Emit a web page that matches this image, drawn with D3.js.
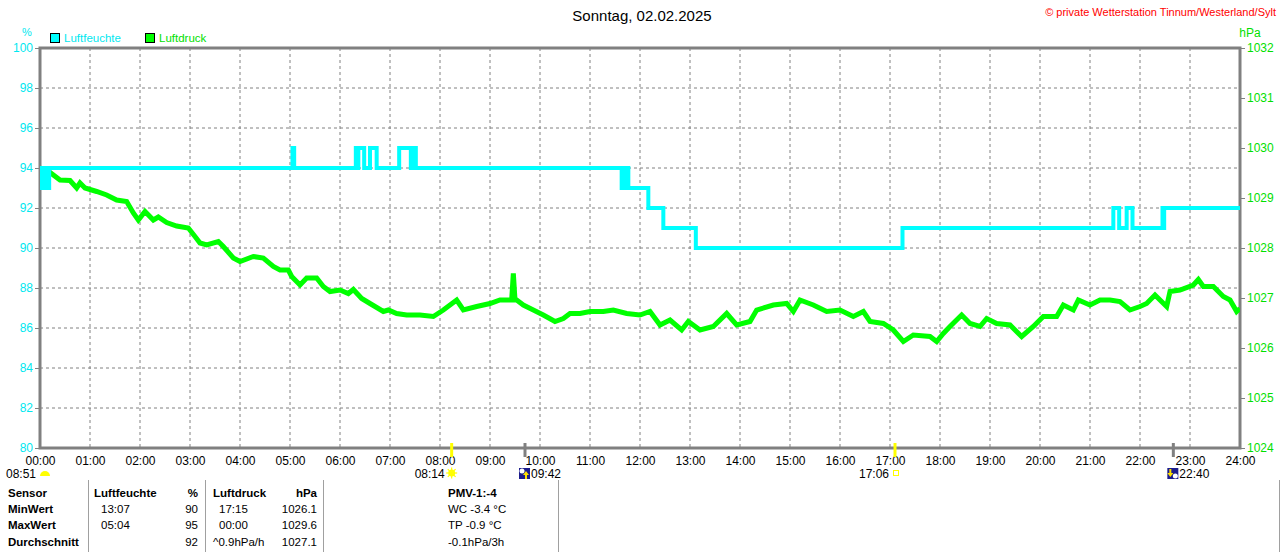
<!DOCTYPE html>
<html>
<head>
<meta charset="utf-8">
<script src="https://cdn.jsdelivr.net/npm/d3@7"></script>
<style>
  body { margin: 0; background: #fff; }
  svg { display: block; font-family: "Liberation Sans", Arial, sans-serif; }
  .grid line { stroke: #808080; stroke-width: 1; stroke-dasharray: 3,3; }
  .tbl { font-size: 11.5px; fill: #000; }
  .tbl.b { font-weight: bold; }
</style>
</head>
<body>
<div id="chart"></div>
<script>
// humidity (%), step values: minute of day, value
const humMin = [0, 2, 5, 8, 11, 303, 305, 379, 381, 382, 389, 396, 404, 431, 433, 445, 448, 451,
  698, 700, 702, 704, 706, 730, 748, 787, 1035, 1288, 1295, 1304, 1311, 1347, 1348, 1349, 1440];
const humVal = [94, 93, 94, 93, 94, 95, 94, 95, 94, 95, 94, 95, 94, 95, 95, 94, 95, 94,
  93, 94, 93, 94, 93, 92, 91, 90, 91, 92, 91, 92, 91, 92, 91, 92, 92];

// air pressure (hPa)
const presMin = [0, 12, 24, 36, 44, 48, 54, 68, 80, 92, 104, 112, 118, 126, 136, 142, 152, 164, 178, 186,
  192, 200, 214, 220, 232, 240, 256, 268, 280, 288, 298, 302, 312, 320, 332, 340, 348, 360, 370, 376,
  386, 396, 412, 418, 428, 440, 456, 472, 484, 500, 508, 524, 540, 552, 564, 566, 568, 570, 572, 580,
  592, 604, 618, 628, 636, 648, 660, 676, 688, 704, 720, 732, 744, 756, 770, 778, 792, 808, 824, 836,
  852, 860, 880, 896, 904, 912, 928, 944, 960, 976, 988, 996, 1012, 1024, 1036, 1048, 1068, 1076, 1084, 1092,
  1106, 1116, 1128, 1136, 1148, 1164, 1178, 1192, 1204, 1220, 1228, 1240, 1246, 1260, 1272, 1284, 1296, 1308, 1320, 1328,
  1338, 1344, 1352, 1356, 1368, 1384, 1390, 1396, 1408, 1420, 1428, 1436, 1440];
const presVal = [1029.60, 1029.51, 1029.36, 1029.35, 1029.20, 1029.30, 1029.20, 1029.13, 1029.06, 1028.96,
  1028.93, 1028.70, 1028.56, 1028.73, 1028.56, 1028.62, 1028.51, 1028.44, 1028.40, 1028.23,
  1028.10, 1028.06, 1028.13, 1028.03, 1027.80, 1027.73, 1027.83, 1027.80, 1027.63, 1027.56,
  1027.56, 1027.43, 1027.26, 1027.40, 1027.40, 1027.23, 1027.13, 1027.16, 1027.09, 1027.17,
  1026.99, 1026.89, 1026.73, 1026.76, 1026.69, 1026.66, 1026.66, 1026.63, 1026.76, 1026.96,
  1026.76, 1026.83, 1026.89, 1026.96, 1026.96, 1026.96, 1027.49, 1026.96, 1026.96, 1026.86,
  1026.76, 1026.66, 1026.53, 1026.59, 1026.69, 1026.69, 1026.73, 1026.73, 1026.76, 1026.69,
  1026.66, 1026.73, 1026.46, 1026.56, 1026.36, 1026.53, 1026.36, 1026.43, 1026.69, 1026.46,
  1026.53, 1026.76, 1026.86, 1026.89, 1026.73, 1026.96, 1026.86, 1026.73, 1026.76, 1026.63,
  1026.73, 1026.53, 1026.49, 1026.36, 1026.13, 1026.26, 1026.23, 1026.13, 1026.29, 1026.43,
  1026.66, 1026.49, 1026.43, 1026.59, 1026.49, 1026.46, 1026.23, 1026.43, 1026.63, 1026.63,
  1026.86, 1026.76, 1026.96, 1026.86, 1026.96, 1026.96, 1026.93, 1026.76, 1026.83, 1026.89,
  1027.06, 1026.96, 1026.83, 1027.13, 1027.16, 1027.26, 1027.37, 1027.23, 1027.23, 1027.03,
  1026.96, 1026.73, 1026.79];

const hourTicks = d3.range(0, 25);
const humTicks = d3.range(80, 101, 2);
const presTicks = d3.range(1024, 1033, 1);

// sun / moon events below the axis
const eventLabel = ["08:51", "08:14", "09:42", "17:06", "22:40"];
const eventMin = [0, 494, 582, 1026, 1360];
const eventType = ["halfsun", "sunrise", "moonrise", "sunset", "moonset"];

// summary table
const tblRows = ["Sensor", "MinWert", "MaxWert", "Durchschnitt"];
const humTime = ["", "13:07", "05:04", ""];
const humStat = ["%", "90", "95", "92"];
const presTime = ["Luftdruck", "17:15", "00:00", "^0.9hPa/h"];
const presStat = ["hPa", "1026.1", "1029.6", "1027.1"];
const pmvText = ["PMV-1:-4", "WC -3.4 °C", "TP -0.9 °C", "-0.1hPa/3h"];

const width = 1280, height = 552;
const margin = { top: 48, right: 40, bottom: 104, left: 40 };
const innerW = width - margin.left - margin.right;
const innerH = height - margin.top - margin.bottom;

const cyan = "#00ffff", green = "#00ff00";
const cyanText = "#00e8f0", greenText = "#00e000";

const x = d3.scaleLinear().domain([0, 1440]).range([margin.left, margin.left + innerW]);
const yH = d3.scaleLinear().domain([80, 100]).range([margin.top + innerH, margin.top]);
const yP = d3.scaleLinear().domain([1024, 1032]).range([margin.top + innerH, margin.top]);

const svg = d3.select("#chart").append("svg")
  .attr("width", width).attr("height", height);

// grid
const grid = svg.append("g").attr("class", "grid");
grid.selectAll(".v").data(hourTicks.slice(1, -1)).join("line")
  .attr("x1", d => x(d * 60)).attr("x2", d => x(d * 60))
  .attr("y1", margin.top).attr("y2", margin.top + innerH);
grid.selectAll(".h").data(humTicks.slice(1, -1)).join("line")
  .attr("x1", margin.left).attr("x2", margin.left + innerW)
  .attr("y1", d => yH(d)).attr("y2", d => yH(d));

// frame
svg.append("rect")
  .attr("x", margin.left).attr("y", margin.top)
  .attr("width", innerW).attr("height", innerH)
  .attr("fill", "none").attr("stroke", "#808080").attr("stroke-width", 3);

const axisFont = sel => sel.style("font-size", "12px").style("font-family", "Liberation Sans, Arial, sans-serif");

// left axis (humidity)
const axL = svg.append("g")
  .attr("transform", `translate(${margin.left - 1},0)`)
  .call(d3.axisLeft(yH).tickValues(humTicks).tickSize(4).tickPadding(2));
axL.select(".domain").remove();
axL.selectAll("line").attr("stroke", "#808080");
axL.selectAll("text").attr("fill", cyanText).call(axisFont);

// right axis (pressure)
const axR = svg.append("g")
  .attr("transform", `translate(${margin.left + innerW + 1},0)`)
  .call(d3.axisRight(yP).tickValues(presTicks).tickFormat(d3.format("d")).tickSize(4).tickPadding(2));
axR.select(".domain").remove();
axR.selectAll("line").attr("stroke", "#808080");
axR.selectAll("text").attr("fill", greenText).call(axisFont);

// bottom axis (hours)
const axB = svg.append("g")
  .attr("transform", `translate(0,${margin.top + innerH + 1})`)
  .call(d3.axisBottom(x).tickValues(hourTicks.map(h => h * 60)).tickSize(0).tickPadding(7)
    .tickFormat(d => d3.format("02d")(d / 60) + ":00"));
axB.select(".domain").remove();
axB.selectAll("text").attr("fill", "#000").call(axisFont);

// unit labels
svg.append("text").attr("x", 27).attr("y", 36).attr("text-anchor", "middle")
  .attr("fill", cyanText).style("font-size", "11px").text("%");
svg.append("text").attr("x", 1250).attr("y", 37).attr("text-anchor", "middle")
  .attr("fill", greenText).style("font-size", "12px").text("hPa");

// legend
const legend = [["Luftfeuchte", cyan, cyanText, 50], ["Luftdruck", green, greenText, 145]];
legend.forEach(([name, c, tc, lx]) => {
  svg.append("rect").attr("x", lx + 0.5).attr("y", 33.5).attr("width", 9).attr("height", 9)
    .attr("fill", c).attr("stroke", "#000").attr("stroke-width", 1);
  svg.append("text").attr("x", lx + 14).attr("y", 42).attr("fill", tc)
    .style("font-size", "11.5px").text(name);
});

// title and copyright
svg.append("text").attr("x", 642).attr("y", 21).attr("text-anchor", "middle")
  .attr("fill", "#000").style("font-size", "15px").text("Sonntag, 02.02.2025");
svg.append("text").attr("x", 1276).attr("y", 16).attr("text-anchor", "end")
  .attr("fill", "#ff0000").style("font-size", "11px").text("© private Wetterstation Tinnum/Westerland/Sylt");

// data lines
svg.append("clipPath").attr("id", "plot").append("rect")
  .attr("x", margin.left).attr("y", margin.top - 4).attr("width", innerW).attr("height", innerH + 4);

const pressure = presMin.map((m, i) => [m, presVal[i]]);
svg.append("path").datum(pressure)
  .attr("clip-path", "url(#plot)")
  .attr("fill", "none").attr("stroke", green).attr("stroke-width", 5)
  .attr("d", d3.line().x(d => x(d[0])).y(d => yP(d[1])));

const humidity = humMin.map((m, i) => [m, humVal[i]]);
svg.append("path").datum(humidity)
  .attr("clip-path", "url(#plot)")
  .attr("fill", "none").attr("stroke", cyan).attr("stroke-width", 4)
  .attr("d", d3.line().curve(d3.curveStepAfter).x(d => x(d[0])).y(d => yH(d[1])));

// sun / moon markers
const ev = svg.append("g");
eventType.forEach((t, i) => {
  const ex = x(eventMin[i]);
  if (t === "sunrise" || t === "sunset") {
    ev.append("line").attr("x1", ex).attr("x2", ex).attr("y1", 443).attr("y2", 457)
      .attr("stroke", "#ffff00").attr("stroke-width", 3);
  }
  if (t === "moonrise" || t === "moonset") {
    ev.append("line").attr("x1", ex).attr("x2", ex).attr("y1", 443).attr("y2", 457)
      .attr("stroke", "#808080").attr("stroke-width", 3);
  }
  if (t === "halfsun") {
    ev.append("path").attr("d", `M${ex} 476 a5 5 0 0 1 10 0 z`).attr("fill", "#ffff00");
    ev.append("text").attr("x", ex - 4).attr("y", 478).attr("text-anchor", "end")
      .style("font-size", "12px").text(eventLabel[i]);
  } else if (t === "sunrise") {
    const g = ev.append("g").attr("transform", `translate(${ex},473)`);
    d3.range(8).forEach(k => {
      const a = k * Math.PI / 4;
      g.append("line").attr("x1", Math.cos(a) * 3).attr("y1", Math.sin(a) * 3)
        .attr("x2", Math.cos(a) * 5.5).attr("y2", Math.sin(a) * 5.5)
        .attr("stroke", "#ffff00").attr("stroke-width", 1.2);
    });
    g.append("circle").attr("r", 3.5).attr("fill", "#ffff00");
    ev.append("text").attr("x", ex - 7).attr("y", 478).attr("text-anchor", "end")
      .style("font-size", "12px").text(eventLabel[i]);
  } else if (t === "sunset") {
    ev.append("rect").attr("x", ex - 1.5).attr("y", 470.5).attr("width", 5).attr("height", 5)
      .attr("fill", "none").attr("stroke", "#ffff00").attr("stroke-width", 1);
    ev.append("text").attr("x", ex - 6).attr("y", 478).attr("text-anchor", "end")
      .style("font-size", "12px").text(eventLabel[i]);
  } else {
    const g = ev.append("g").attr("transform", `translate(${ex - 6},468)`);
    g.append("rect").attr("width", 11).attr("height", 11).attr("fill", "#1c1c8c");
    g.append("circle").attr("cx", t === "moonrise" ? 3 : 8).attr("cy", t === "moonrise" ? 3 : 8)
      .attr("r", 2.5).attr("fill", "#ffffff");
    const ax = t === "moonrise" ? 7 : 3;
    const arrow = t === "moonrise"
      ? `M${ax} 3 l-3 4 h2 v4 h2 v-4 h2 z`
      : `M${ax} 9 l-3 -4 h2 v-4 h2 v4 h2 z`;
    g.append("path").attr("d", arrow).attr("fill", "#ffe000");
    ev.append("text").attr("x", ex + 6).attr("y", 478).attr("text-anchor", "start")
      .style("font-size", "12px").text(eventLabel[i]);
  }
});

// summary table
const tbl = svg.append("g");
const rowY = [497, 513, 529, 546];
[88, 205, 323, 558, 1279].forEach(lx => {
  tbl.append("line").attr("x1", lx + 0.5).attr("x2", lx + 0.5).attr("y1", 480).attr("y2", 552)
    .attr("stroke", "#a0a0a0").attr("stroke-width", 1);
});
tblRows.forEach((r, i) => {
  const y = rowY[i];
  const head = i === 0;
  tbl.append("text").attr("class", "tbl b").attr("x", 8).attr("y", y).text(r);
  if (head) tbl.append("text").attr("class", "tbl b").attr("x", 94).attr("y", y).text("Luftfeuchte");
  else tbl.append("text").attr("class", "tbl").attr("x", 101).attr("y", y).text(humTime[i]);
  tbl.append("text").attr("class", head ? "tbl b" : "tbl").attr("x", 198).attr("y", y)
    .attr("text-anchor", "end").text(humStat[i]);
  tbl.append("text").attr("class", head ? "tbl b" : "tbl").attr("x", i === 0 || i === 3 ? 213 : 219)
    .attr("y", y).text(presTime[i]);
  tbl.append("text").attr("class", head ? "tbl b" : "tbl").attr("x", 317).attr("y", y)
    .attr("text-anchor", "end").text(presStat[i]);
  tbl.append("text").attr("class", head ? "tbl b" : "tbl").attr("x", 448).attr("y", y)
    .text(pmvText[i]);
});
</script>
</body>
</html>
